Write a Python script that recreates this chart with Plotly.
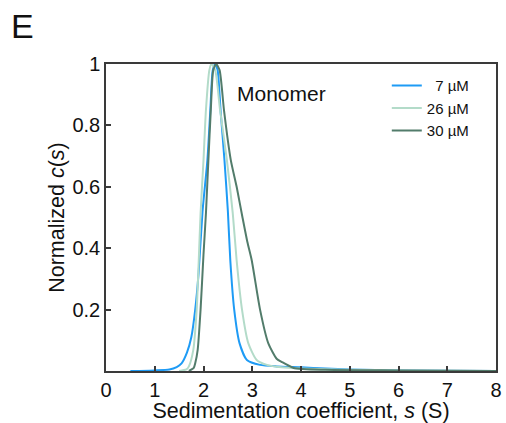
import plotly.graph_objects as go

# 7 µM
x_7 = [0.5, 1.0, 1.3, 1.45, 1.55, 1.66, 1.75, 1.83, 1.9, 1.98, 2.08, 2.14, 2.19, 2.24, 2.29, 2.35, 2.43, 2.5, 2.55, 2.63, 2.74, 2.89, 3.16, 3.5, 4.0, 4.5, 5.0, 6.0, 8.0]
y_7 = [0.0, 0.002, 0.005, 0.013, 0.025, 0.06, 0.11, 0.2, 0.32, 0.52, 0.687, 0.85, 0.98, 1.0, 0.98, 0.85, 0.687, 0.52, 0.36, 0.2, 0.09, 0.036, 0.02, 0.015, 0.012, 0.008, 0.005, 0.002, 0.0]

# 26 µM
x_26 = [1.5, 1.65, 1.70, 1.79, 1.86, 1.90, 1.94, 2.0, 2.05, 2.12, 2.16, 2.24, 2.34, 2.48, 2.6, 2.68, 2.79, 2.92, 3.09, 3.3, 3.6, 4.0, 5.0, 6.0, 8.0]
y_26 = [0.0, 0.005, 0.015, 0.068, 0.2, 0.35, 0.514, 0.687, 0.85, 0.98, 1.0, 0.98, 0.85, 0.687, 0.514, 0.36, 0.2, 0.09, 0.036, 0.02, 0.012, 0.008, 0.004, 0.002, 0.0]

# 30 µM
x_30 = [1.7, 1.8, 1.83, 1.88, 1.94, 2.0, 2.05, 2.1, 2.15, 2.2, 2.26, 2.33, 2.42, 2.56, 2.68, 2.8, 2.9, 2.99, 3.16, 3.33, 3.5, 3.6, 3.85, 4.5, 6.0, 8.0]
y_30 = [0.0, 0.01, 0.025, 0.068, 0.2, 0.38, 0.514, 0.687, 0.85, 0.98, 1.0, 0.98, 0.85, 0.687, 0.6, 0.5, 0.42, 0.36, 0.2, 0.09, 0.04, 0.03, 0.01, 0.004, 0.002, 0.0]

series_names = ["\u20077 µM", "26 µM", "30 µM"]
series_colors = ["#1E9BF5", "#B3DBC9", "#527C6B"]

x_ticks = [0, 1, 2, 3, 4, 5, 6, 7, 8]
y_ticks = [0.2, 0.4, 0.6, 0.8, 1.0]
y_ticklabels = ["0.2", "0.4", "0.6", "0.8", "1"]

FONT = "Arial, Liberation Sans, sans-serif"

fig = go.Figure()
for xs, ys, name, col in zip([x_7, x_26, x_30], [y_7, y_26, y_30], series_names, series_colors):
    fig.add_trace(go.Scatter(x=xs, y=ys, mode="lines", name=name,
                             line=dict(color=col, width=2, shape="spline", smoothing=0.6)))

axis_common = dict(showline=True, linecolor="#3a3a3a", linewidth=1.5, mirror=True,
                   ticks="inside", ticklen=5, tickwidth=1.5, tickcolor="#3a3a3a",
                   showgrid=False, zeroline=False,
                   tickfont=dict(family=FONT, size=20, color="#111"))

fig.update_xaxes(range=[0, 8], tickvals=x_ticks, **axis_common,
                 title=dict(text="Sedimentation coefficient, <i>s</i> (S)",
                            font=dict(family=FONT, size=21.5, color="#111"), standoff=0))
fig.update_yaxes(range=[0, 1], tickvals=y_ticks, ticktext=y_ticklabels, **axis_common,
                 title=dict(text="Normalized <i>c</i>(<i>s</i>)",
                            font=dict(family=FONT, size=21.5, color="#111"), standoff=2))

fig.add_annotation(text="Monomer", xref="paper", yref="paper", x=0.33, y=0.905,
                   xanchor="left", yanchor="middle", showarrow=False,
                   font=dict(family=FONT, size=21, color="#111"))
fig.add_annotation(text="E", xref="paper", yref="paper", x=-0.25, y=1.124,
                   xanchor="left", yanchor="middle", showarrow=False,
                   font=dict(family=FONT, size=34, color="#111"))

fig.update_layout(
    width=506, height=423,
    margin=dict(l=106, r=10, t=64, b=52, autoexpand=False),
    plot_bgcolor="white", paper_bgcolor="white",
    showlegend=True,
    legend=dict(x=0.72, y=0.983, xanchor="left", yanchor="top",
                bgcolor="rgba(0,0,0,0)", font=dict(family=FONT, size=15, color="#111"),
                itemwidth=30, tracegroupgap=0),
)

fig.write_html("out.html", config={"displayModeBar": False},
               post_script="document.body.style.margin='0';document.body.style.padding='0';")
